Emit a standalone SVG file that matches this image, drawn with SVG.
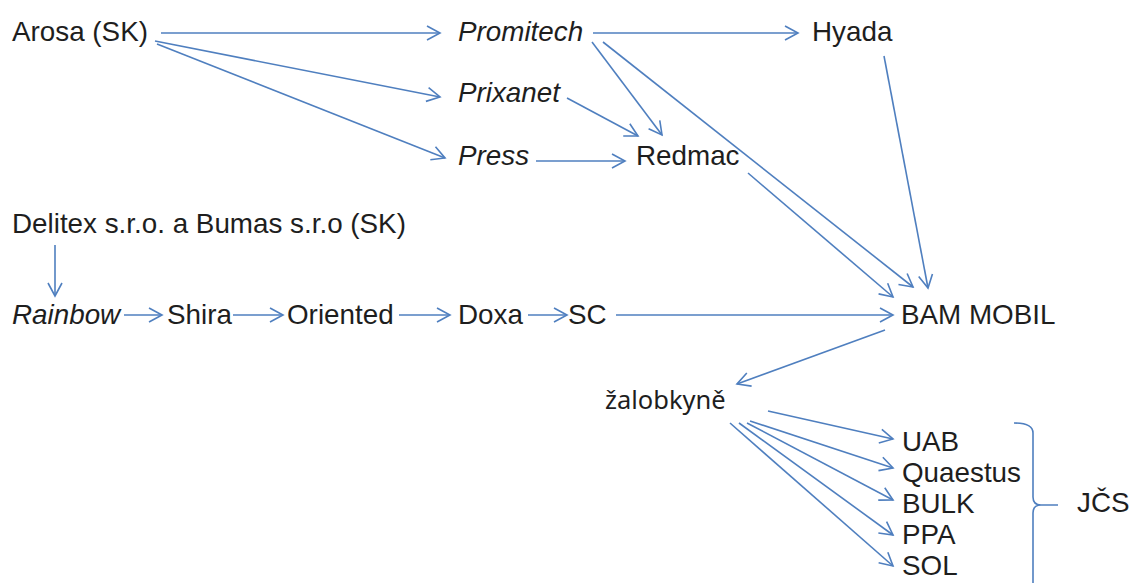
<svg xmlns="http://www.w3.org/2000/svg" width="1134" height="583" viewBox="0 0 1134 583">
<style>
text{font-family:"Liberation Sans",Arial,sans-serif;font-size:27.8px;fill:#1e1e1e}
.i{font-style:italic}
.z{font-family:"Noto Sans","Open Sans",sans-serif;font-size:25.5px}
.c path,.c line{stroke:#4f7fbf;stroke-width:1.6;fill:none;marker-end:url(#ah)}
.b{stroke:#4f7fbf;stroke-width:1.6;fill:none}
</style>
<defs>
<marker id="ah" markerUnits="userSpaceOnUse" markerWidth="20" markerHeight="20" refX="0" refY="0" viewBox="-14 -10 16 20" orient="auto">
<path d="M-13,-7 L0,0 L-13,7" fill="none" stroke="#4f7fbf" stroke-width="1.6"/>
</marker>
</defs>
<g id="arosa"><text x="12" y="41">Arosa (SK)</text></g>
<g id="promitech"><text class="i" x="458" y="41">Promitech</text></g>
<g id="hyada"><text x="812" y="41">Hyada</text></g>
<g id="prixanet"><text class="i" x="458" y="102">Prixanet</text></g>
<g id="press"><text class="i" x="458" y="165">Press</text></g>
<g id="redmac"><text x="636" y="165">Redmac</text></g>
<g id="delitex"><text x="12" y="233">Delitex s.r.o. a Bumas s.r.o (SK)</text></g>
<g id="rainbow"><text class="i" x="12" y="324">Rainbow</text></g>
<g id="shira"><text x="167" y="324">Shira</text></g>
<g id="oriented"><text x="287" y="324">Oriented</text></g>
<g id="doxa"><text x="458" y="324">Doxa</text></g>
<g id="sc"><text x="568" y="324">SC</text></g>
<g id="bammobil"><text x="901" y="324">BAM MOBIL</text></g>
<g id="zalobkyne"><text class="z" x="605" y="409">žalobkyně</text></g>
<g id="uab"><text x="902" y="451">UAB</text></g>
<g id="quaestus"><text x="902" y="482">Quaestus</text></g>
<g id="bulk"><text x="902" y="513">BULK</text></g>
<g id="ppa"><text x="902" y="544">PPA</text></g>
<g id="sol"><text x="902" y="575">SOL</text></g>
<g id="jcs"><text x="1077" y="512">JČS</text>
<path class="b" d="M1014,423 Q1033,423 1033,433 L1033,497 Q1033,505 1041,505 Q1033,505 1033,513 L1033,590 M1041,505 L1058,505"/></g>
<g id="connectors" class="c">
<line x1="161" y1="33" x2="440" y2="33"/>
<line x1="155" y1="41" x2="440" y2="97"/>
<line x1="157" y1="44" x2="445" y2="158"/>
<line x1="593" y1="33" x2="798" y2="33"/>
<line x1="592" y1="42" x2="662" y2="135"/>
<line x1="567" y1="98" x2="638" y2="136"/>
<line x1="536" y1="161" x2="625" y2="161"/>
<line x1="603" y1="42" x2="913" y2="287"/>
<line x1="748" y1="173" x2="893" y2="297"/>
<line x1="884" y1="56" x2="928" y2="288"/>
<line x1="55" y1="245" x2="55" y2="296"/>
<line x1="124" y1="315" x2="162" y2="315"/>
<line x1="233" y1="315" x2="283" y2="315"/>
<line x1="399" y1="315" x2="450" y2="315"/>
<line x1="528" y1="315" x2="567" y2="315"/>
<line x1="616" y1="315" x2="893" y2="315"/>
<line x1="885" y1="330" x2="737" y2="384"/>
<line x1="768" y1="411" x2="893" y2="439"/>
<line x1="750" y1="421" x2="893" y2="468"/>
<line x1="747" y1="423" x2="893" y2="500"/>
<line x1="739" y1="423" x2="893" y2="535"/>
<line x1="730" y1="423" x2="893" y2="566"/>
</g>
</svg>
